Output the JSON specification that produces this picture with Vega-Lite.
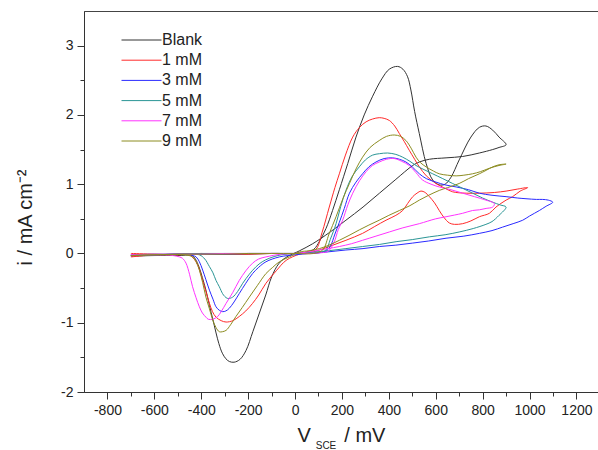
{
  "$schema": "https://vega.github.io/schema/vega-lite/v6.json",
  "width": 514,
  "height": 381,
  "autosize": {"type": "none"},
  "padding": {"left": 84, "top": 11, "right": 0, "bottom": 58},
  "background": "white",
  "config": {
    "view": {"stroke": "#444", "strokeWidth": 1},
    "font": "Liberation Sans"
  },
  "title": {
    "text": "SCE",
    "orient": "bottom",
    "anchor": "middle",
    "fontSize": 10,
    "font": "Liberation Sans",
    "fontWeight": "normal",
    "color": "#222",
    "dx": -15,
    "offset": -4
  },
  "data": {
    "values": [
      {"c":"Blank","v":-700,"i":-0.03},{"c":"Blank","v":-600,"i":-0.02},{"c":"Blank","v":-500,"i":-0.02},{"c":"Blank","v":-400,"i":-0.01},{"c":"Blank","v":-300,"i":-0.01},{"c":"Blank","v":-200,"i":-0.01},{"c":"Blank","v":-100,"i":0.0},{"c":"Blank","v":0,"i":0.0},{"c":"Blank","v":50,"i":0.02},{"c":"Blank","v":80,"i":0.06},{"c":"Blank","v":105,"i":0.18},{"c":"Blank","v":132,"i":0.36},{"c":"Blank","v":160,"i":0.62},{"c":"Blank","v":189,"i":0.92},{"c":"Blank","v":225,"i":1.30},{"c":"Blank","v":260,"i":1.68},{"c":"Blank","v":295,"i":2.0},{"c":"Blank","v":331,"i":2.27},{"c":"Blank","v":370,"i":2.52},{"c":"Blank","v":402,"i":2.66},{"c":"Blank","v":437,"i":2.70},{"c":"Blank","v":460,"i":2.66},{"c":"Blank","v":480,"i":2.55},{"c":"Blank","v":494,"i":2.36},{"c":"Blank","v":510,"i":2.05},{"c":"Blank","v":530,"i":1.73},{"c":"Blank","v":559,"i":1.30},{"c":"Blank","v":587,"i":1.06},{"c":"Blank","v":615,"i":0.99},{"c":"Blank","v":640,"i":1.0},{"c":"Blank","v":665,"i":1.1},{"c":"Blank","v":700,"i":1.35},{"c":"Blank","v":750,"i":1.68},{"c":"Blank","v":786,"i":1.82},{"c":"Blank","v":814,"i":1.84},{"c":"Blank","v":843,"i":1.78},{"c":"Blank","v":870,"i":1.68},{"c":"Blank","v":900,"i":1.57},
      {"c":"Blank","v":870,"i":1.53},{"c":"Blank","v":843,"i":1.50},{"c":"Blank","v":786,"i":1.45},{"c":"Blank","v":715,"i":1.40},{"c":"Blank","v":644,"i":1.38},{"c":"Blank","v":573,"i":1.36},{"c":"Blank","v":530,"i":1.32},{"c":"Blank","v":502,"i":1.27},{"c":"Blank","v":430,"i":1.07},{"c":"Blank","v":360,"i":0.87},{"c":"Blank","v":290,"i":0.67},{"c":"Blank","v":217,"i":0.48},{"c":"Blank","v":150,"i":0.31},{"c":"Blank","v":75,"i":0.14},{"c":"Blank","v":20,"i":0.04},{"c":"Blank","v":-40,"i":-0.06},{"c":"Blank","v":-70,"i":-0.15},{"c":"Blank","v":-100,"i":-0.34},{"c":"Blank","v":-125,"i":-0.6},{"c":"Blank","v":-152,"i":-0.86},{"c":"Blank","v":-180,"i":-1.13},{"c":"Blank","v":-209,"i":-1.40},{"c":"Blank","v":-235,"i":-1.53},{"c":"Blank","v":-260,"i":-1.57},{"c":"Blank","v":-280,"i":-1.56},{"c":"Blank","v":-295,"i":-1.52},{"c":"Blank","v":-310,"i":-1.44},{"c":"Blank","v":-325,"i":-1.30},{"c":"Blank","v":-350,"i":-0.96},{"c":"Blank","v":-365,"i":-0.75},{"c":"Blank","v":-380,"i":-0.53},{"c":"Blank","v":-395,"i":-0.35},{"c":"Blank","v":-410,"i":-0.19},{"c":"Blank","v":-425,"i":-0.08},{"c":"Blank","v":-440,"i":-0.03},{"c":"Blank","v":-500,"i":-0.03},{"c":"Blank","v":-600,"i":-0.03},{"c":"Blank","v":-700,"i":-0.04},

      {"c":"1 mM","v":-700,"i":-0.05},{"c":"1 mM","v":-600,"i":-0.02},{"c":"1 mM","v":-500,"i":-0.01},{"c":"1 mM","v":-400,"i":0.0},{"c":"1 mM","v":-300,"i":-0.01},{"c":"1 mM","v":-200,"i":-0.01},{"c":"1 mM","v":-100,"i":0.0},{"c":"1 mM","v":0,"i":0.0},{"c":"1 mM","v":50,"i":0.02},{"c":"1 mM","v":89,"i":0.06},{"c":"1 mM","v":115,"i":0.3},{"c":"1 mM","v":146,"i":0.67},{"c":"1 mM","v":170,"i":0.95},{"c":"1 mM","v":189,"i":1.15},{"c":"1 mM","v":215,"i":1.42},{"c":"1 mM","v":246,"i":1.68},{"c":"1 mM","v":275,"i":1.82},{"c":"1 mM","v":303,"i":1.90},{"c":"1 mM","v":330,"i":1.94},{"c":"1 mM","v":359,"i":1.96},{"c":"1 mM","v":380,"i":1.95},{"c":"1 mM","v":402,"i":1.92},{"c":"1 mM","v":425,"i":1.84},{"c":"1 mM","v":445,"i":1.73},{"c":"1 mM","v":465,"i":1.62},{"c":"1 mM","v":487,"i":1.49},{"c":"1 mM","v":510,"i":1.36},{"c":"1 mM","v":530,"i":1.25},{"c":"1 mM","v":560,"i":1.12},{"c":"1 mM","v":601,"i":1.01},{"c":"1 mM","v":640,"i":0.94},{"c":"1 mM","v":672,"i":0.89},{"c":"1 mM","v":730,"i":0.87},{"c":"1 mM","v":786,"i":0.87},{"c":"1 mM","v":850,"i":0.88},{"c":"1 mM","v":900,"i":0.90},{"c":"1 mM","v":950,"i":0.93},{"c":"1 mM","v":992,"i":0.95},
      {"c":"1 mM","v":960,"i":0.90},{"c":"1 mM","v":928,"i":0.82},{"c":"1 mM","v":900,"i":0.77},{"c":"1 mM","v":857,"i":0.67},{"c":"1 mM","v":829,"i":0.58},{"c":"1 mM","v":786,"i":0.53},{"c":"1 mM","v":750,"i":0.47},{"c":"1 mM","v":715,"i":0.43},{"c":"1 mM","v":680,"i":0.42},{"c":"1 mM","v":658,"i":0.44},{"c":"1 mM","v":635,"i":0.52},{"c":"1 mM","v":615,"i":0.62},{"c":"1 mM","v":595,"i":0.73},{"c":"1 mM","v":573,"i":0.82},{"c":"1 mM","v":555,"i":0.88},{"c":"1 mM","v":537,"i":0.90},{"c":"1 mM","v":520,"i":0.87},{"c":"1 mM","v":502,"i":0.82},{"c":"1 mM","v":480,"i":0.72},{"c":"1 mM","v":459,"i":0.62},{"c":"1 mM","v":430,"i":0.55},{"c":"1 mM","v":388,"i":0.48},{"c":"1 mM","v":340,"i":0.39},{"c":"1 mM","v":288,"i":0.29},{"c":"1 mM","v":217,"i":0.19},{"c":"1 mM","v":146,"i":0.10},{"c":"1 mM","v":75,"i":0.02},{"c":"1 mM","v":20,"i":-0.01},{"c":"1 mM","v":-38,"i":-0.10},{"c":"1 mM","v":-80,"i":-0.25},{"c":"1 mM","v":-124,"i":-0.43},{"c":"1 mM","v":-155,"i":-0.60},{"c":"1 mM","v":-181,"i":-0.72},{"c":"1 mM","v":-210,"i":-0.83},{"c":"1 mM","v":-238,"i":-0.91},{"c":"1 mM","v":-265,"i":-0.97},{"c":"1 mM","v":-294,"i":-0.99},{"c":"1 mM","v":-315,"i":-0.97},{"c":"1 mM","v":-337,"i":-0.92},{"c":"1 mM","v":-352,"i":-0.84},{"c":"1 mM","v":-365,"i":-0.72},{"c":"1 mM","v":-380,"i":-0.55},{"c":"1 mM","v":-394,"i":-0.39},{"c":"1 mM","v":-408,"i":-0.23},{"c":"1 mM","v":-422,"i":-0.12},{"c":"1 mM","v":-451,"i":-0.02},{"c":"1 mM","v":-500,"i":-0.02},{"c":"1 mM","v":-600,"i":-0.01},{"c":"1 mM","v":-700,"i":0.0},

      {"c":"3 mM","v":-700,"i":-0.03},{"c":"3 mM","v":-600,"i":-0.02},{"c":"3 mM","v":-500,"i":-0.01},{"c":"3 mM","v":-400,"i":-0.01},{"c":"3 mM","v":-300,"i":-0.01},{"c":"3 mM","v":-200,"i":0.0},{"c":"3 mM","v":-100,"i":0.0},{"c":"3 mM","v":0,"i":0.0},{"c":"3 mM","v":60,"i":0.0},{"c":"3 mM","v":100,"i":0.01},{"c":"3 mM","v":130,"i":0.03},{"c":"3 mM","v":150,"i":0.1},{"c":"3 mM","v":170,"i":0.28},{"c":"3 mM","v":189,"i":0.45},{"c":"3 mM","v":210,"i":0.65},{"c":"3 mM","v":232,"i":0.87},{"c":"3 mM","v":260,"i":1.03},{"c":"3 mM","v":288,"i":1.15},{"c":"3 mM","v":315,"i":1.25},{"c":"3 mM","v":345,"i":1.32},{"c":"3 mM","v":380,"i":1.37},{"c":"3 mM","v":416,"i":1.38},{"c":"3 mM","v":445,"i":1.36},{"c":"3 mM","v":473,"i":1.32},{"c":"3 mM","v":500,"i":1.25},{"c":"3 mM","v":530,"i":1.15},{"c":"3 mM","v":560,"i":1.08},{"c":"3 mM","v":601,"i":1.03},{"c":"3 mM","v":640,"i":0.99},{"c":"3 mM","v":687,"i":0.96},{"c":"3 mM","v":740,"i":0.92},{"c":"3 mM","v":786,"i":0.87},{"c":"3 mM","v":840,"i":0.84},{"c":"3 mM","v":900,"i":0.82},{"c":"3 mM","v":950,"i":0.80},{"c":"3 mM","v":985,"i":0.79},{"c":"3 mM","v":1030,"i":0.78},{"c":"3 mM","v":1056,"i":0.78},{"c":"3 mM","v":1080,"i":0.77},{"c":"3 mM","v":1099,"i":0.74},
      {"c":"3 mM","v":1070,"i":0.68},{"c":"3 mM","v":1042,"i":0.62},{"c":"3 mM","v":1000,"i":0.54},{"c":"3 mM","v":971,"i":0.48},{"c":"3 mM","v":930,"i":0.43},{"c":"3 mM","v":885,"i":0.38},{"c":"3 mM","v":840,"i":0.33},{"c":"3 mM","v":786,"i":0.29},{"c":"3 mM","v":720,"i":0.25},{"c":"3 mM","v":644,"i":0.22},{"c":"3 mM","v":570,"i":0.18},{"c":"3 mM","v":502,"i":0.15},{"c":"3 mM","v":430,"i":0.12},{"c":"3 mM","v":359,"i":0.10},{"c":"3 mM","v":290,"i":0.07},{"c":"3 mM","v":217,"i":0.05},{"c":"3 mM","v":132,"i":0.02},{"c":"3 mM","v":60,"i":0.0},{"c":"3 mM","v":0,"i":-0.02},{"c":"3 mM","v":-67,"i":-0.05},{"c":"3 mM","v":-124,"i":-0.12},{"c":"3 mM","v":-155,"i":-0.20},{"c":"3 mM","v":-181,"i":-0.29},{"c":"3 mM","v":-210,"i":-0.43},{"c":"3 mM","v":-238,"i":-0.58},{"c":"3 mM","v":-260,"i":-0.70},{"c":"3 mM","v":-280,"i":-0.79},{"c":"3 mM","v":-295,"i":-0.83},{"c":"3 mM","v":-309,"i":-0.84},{"c":"3 mM","v":-323,"i":-0.82},{"c":"3 mM","v":-337,"i":-0.77},{"c":"3 mM","v":-350,"i":-0.66},{"c":"3 mM","v":-365,"i":-0.53},{"c":"3 mM","v":-380,"i":-0.38},{"c":"3 mM","v":-394,"i":-0.24},{"c":"3 mM","v":-408,"i":-0.12},{"c":"3 mM","v":-422,"i":-0.05},{"c":"3 mM","v":-450,"i":-0.02},{"c":"3 mM","v":-500,"i":-0.01},{"c":"3 mM","v":-600,"i":-0.02},{"c":"3 mM","v":-700,"i":-0.03},

      {"c":"5 mM","v":-700,"i":-0.02},{"c":"5 mM","v":-600,"i":-0.01},{"c":"5 mM","v":-500,"i":-0.01},{"c":"5 mM","v":-400,"i":0.0},{"c":"5 mM","v":-300,"i":0.0},{"c":"5 mM","v":-200,"i":0.0},{"c":"5 mM","v":-100,"i":0.0},{"c":"5 mM","v":0,"i":0.0},{"c":"5 mM","v":60,"i":0.0},{"c":"5 mM","v":100,"i":0.01},{"c":"5 mM","v":132,"i":0.05},{"c":"5 mM","v":150,"i":0.2},{"c":"5 mM","v":175,"i":0.43},{"c":"5 mM","v":195,"i":0.68},{"c":"5 mM","v":217,"i":0.91},{"c":"5 mM","v":245,"i":1.12},{"c":"5 mM","v":274,"i":1.25},{"c":"5 mM","v":300,"i":1.35},{"c":"5 mM","v":331,"i":1.42},{"c":"5 mM","v":360,"i":1.44},{"c":"5 mM","v":395,"i":1.45},{"c":"5 mM","v":430,"i":1.43},{"c":"5 mM","v":459,"i":1.39},{"c":"5 mM","v":490,"i":1.33},{"c":"5 mM","v":516,"i":1.27},{"c":"5 mM","v":550,"i":1.21},{"c":"5 mM","v":587,"i":1.15},{"c":"5 mM","v":630,"i":1.08},{"c":"5 mM","v":672,"i":1.01},{"c":"5 mM","v":715,"i":0.94},{"c":"5 mM","v":757,"i":0.87},{"c":"5 mM","v":800,"i":0.80},{"c":"5 mM","v":843,"i":0.74},{"c":"5 mM","v":875,"i":0.70},{"c":"5 mM","v":900,"i":0.67},
      {"c":"5 mM","v":870,"i":0.55},{"c":"5 mM","v":840,"i":0.46},{"c":"5 mM","v":814,"i":0.42},{"c":"5 mM","v":760,"i":0.36},{"c":"5 mM","v":700,"i":0.31},{"c":"5 mM","v":640,"i":0.27},{"c":"5 mM","v":573,"i":0.24},{"c":"5 mM","v":500,"i":0.20},{"c":"5 mM","v":431,"i":0.17},{"c":"5 mM","v":360,"i":0.13},{"c":"5 mM","v":288,"i":0.10},{"c":"5 mM","v":217,"i":0.07},{"c":"5 mM","v":146,"i":0.04},{"c":"5 mM","v":80,"i":0.02},{"c":"5 mM","v":0,"i":0.0},{"c":"5 mM","v":-60,"i":-0.02},{"c":"5 mM","v":-110,"i":-0.07},{"c":"5 mM","v":-140,"i":-0.12},{"c":"5 mM","v":-166,"i":-0.19},{"c":"5 mM","v":-195,"i":-0.30},{"c":"5 mM","v":-223,"i":-0.43},{"c":"5 mM","v":-245,"i":-0.55},{"c":"5 mM","v":-266,"i":-0.63},{"c":"5 mM","v":-287,"i":-0.65},{"c":"5 mM","v":-300,"i":-0.62},{"c":"5 mM","v":-309,"i":-0.58},{"c":"5 mM","v":-323,"i":-0.48},{"c":"5 mM","v":-337,"i":-0.39},{"c":"5 mM","v":-350,"i":-0.28},{"c":"5 mM","v":-365,"i":-0.19},{"c":"5 mM","v":-385,"i":-0.08},{"c":"5 mM","v":-408,"i":-0.02},{"c":"5 mM","v":-500,"i":-0.01},{"c":"5 mM","v":-600,"i":-0.02},{"c":"5 mM","v":-700,"i":-0.02},

      {"c":"7 mM","v":-700,"i":-0.02},{"c":"7 mM","v":-600,"i":-0.01},{"c":"7 mM","v":-500,"i":-0.01},{"c":"7 mM","v":-400,"i":-0.01},{"c":"7 mM","v":-300,"i":0.0},{"c":"7 mM","v":-200,"i":0.0},{"c":"7 mM","v":-100,"i":0.0},{"c":"7 mM","v":0,"i":0.0},{"c":"7 mM","v":60,"i":0.0},{"c":"7 mM","v":110,"i":0.01},{"c":"7 mM","v":140,"i":0.03},{"c":"7 mM","v":165,"i":0.15},{"c":"7 mM","v":185,"i":0.35},{"c":"7 mM","v":203,"i":0.48},{"c":"7 mM","v":225,"i":0.70},{"c":"7 mM","v":246,"i":0.87},{"c":"7 mM","v":275,"i":1.05},{"c":"7 mM","v":303,"i":1.18},{"c":"7 mM","v":330,"i":1.27},{"c":"7 mM","v":359,"i":1.32},{"c":"7 mM","v":390,"i":1.36},{"c":"7 mM","v":423,"i":1.37},{"c":"7 mM","v":455,"i":1.33},{"c":"7 mM","v":487,"i":1.27},{"c":"7 mM","v":515,"i":1.17},{"c":"7 mM","v":544,"i":1.06},{"c":"7 mM","v":580,"i":1.0},{"c":"7 mM","v":615,"i":0.96},{"c":"7 mM","v":665,"i":0.92},{"c":"7 mM","v":715,"i":0.87},{"c":"7 mM","v":765,"i":0.82},{"c":"7 mM","v":814,"i":0.77},{"c":"7 mM","v":850,"i":0.72},
      {"c":"7 mM","v":843,"i":0.67},{"c":"7 mM","v":815,"i":0.65},{"c":"7 mM","v":786,"i":0.63},{"c":"7 mM","v":757,"i":0.62},{"c":"7 mM","v":715,"i":0.58},{"c":"7 mM","v":644,"i":0.53},{"c":"7 mM","v":600,"i":0.50},{"c":"7 mM","v":530,"i":0.43},{"c":"7 mM","v":460,"i":0.37},{"c":"7 mM","v":402,"i":0.31},{"c":"7 mM","v":345,"i":0.25},{"c":"7 mM","v":288,"i":0.19},{"c":"7 mM","v":240,"i":0.14},{"c":"7 mM","v":189,"i":0.10},{"c":"7 mM","v":140,"i":0.07},{"c":"7 mM","v":104,"i":0.05},{"c":"7 mM","v":50,"i":0.02},{"c":"7 mM","v":0,"i":0.0},{"c":"7 mM","v":-60,"i":-0.01},{"c":"7 mM","v":-124,"i":-0.05},{"c":"7 mM","v":-155,"i":-0.08},{"c":"7 mM","v":-181,"i":-0.14},{"c":"7 mM","v":-210,"i":-0.25},{"c":"7 mM","v":-238,"i":-0.39},{"c":"7 mM","v":-265,"i":-0.56},{"c":"7 mM","v":-294,"i":-0.72},{"c":"7 mM","v":-315,"i":-0.84},{"c":"7 mM","v":-330,"i":-0.91},{"c":"7 mM","v":-351,"i":-0.95},{"c":"7 mM","v":-370,"i":-0.95},{"c":"7 mM","v":-380,"i":-0.92},{"c":"7 mM","v":-395,"i":-0.86},{"c":"7 mM","v":-408,"i":-0.77},{"c":"7 mM","v":-422,"i":-0.64},{"c":"7 mM","v":-437,"i":-0.48},{"c":"7 mM","v":-450,"i":-0.30},{"c":"7 mM","v":-465,"i":-0.14},{"c":"7 mM","v":-480,"i":-0.07},{"c":"7 mM","v":-493,"i":-0.05},{"c":"7 mM","v":-520,"i":-0.03},{"c":"7 mM","v":-600,"i":-0.02},{"c":"7 mM","v":-700,"i":-0.02},

      {"c":"9 mM","v":-700,"i":-0.03},{"c":"9 mM","v":-600,"i":-0.02},{"c":"9 mM","v":-500,"i":-0.01},{"c":"9 mM","v":-400,"i":-0.01},{"c":"9 mM","v":-300,"i":-0.01},{"c":"9 mM","v":-200,"i":0.0},{"c":"9 mM","v":-100,"i":0.0},{"c":"9 mM","v":0,"i":0.0},{"c":"9 mM","v":80,"i":0.0},{"c":"9 mM","v":118,"i":0.05},{"c":"9 mM","v":145,"i":0.28},{"c":"9 mM","v":175,"i":0.53},{"c":"9 mM","v":205,"i":0.80},{"c":"9 mM","v":232,"i":1.01},{"c":"9 mM","v":260,"i":1.22},{"c":"9 mM","v":288,"i":1.39},{"c":"9 mM","v":320,"i":1.53},{"c":"9 mM","v":359,"i":1.63},{"c":"9 mM","v":390,"i":1.69},{"c":"9 mM","v":423,"i":1.71},{"c":"9 mM","v":450,"i":1.69},{"c":"9 mM","v":473,"i":1.63},{"c":"9 mM","v":495,"i":1.52},{"c":"9 mM","v":516,"i":1.39},{"c":"9 mM","v":535,"i":1.31},{"c":"9 mM","v":559,"i":1.25},{"c":"9 mM","v":590,"i":1.19},{"c":"9 mM","v":615,"i":1.15},{"c":"9 mM","v":650,"i":1.13},{"c":"9 mM","v":687,"i":1.12},{"c":"9 mM","v":720,"i":1.13},{"c":"9 mM","v":757,"i":1.15},{"c":"9 mM","v":790,"i":1.18},{"c":"9 mM","v":829,"i":1.23},{"c":"9 mM","v":870,"i":1.27},{"c":"9 mM","v":900,"i":1.29},
      {"c":"9 mM","v":870,"i":1.28},{"c":"9 mM","v":843,"i":1.25},{"c":"9 mM","v":815,"i":1.20},{"c":"9 mM","v":786,"i":1.15},{"c":"9 mM","v":740,"i":1.08},{"c":"9 mM","v":700,"i":1.01},{"c":"9 mM","v":650,"i":0.95},{"c":"9 mM","v":615,"i":0.91},{"c":"9 mM","v":570,"i":0.84},{"c":"9 mM","v":530,"i":0.77},{"c":"9 mM","v":490,"i":0.69},{"c":"9 mM","v":445,"i":0.62},{"c":"9 mM","v":400,"i":0.55},{"c":"9 mM","v":359,"i":0.48},{"c":"9 mM","v":315,"i":0.41},{"c":"9 mM","v":274,"i":0.34},{"c":"9 mM","v":230,"i":0.26},{"c":"9 mM","v":189,"i":0.19},{"c":"9 mM","v":145,"i":0.12},{"c":"9 mM","v":104,"i":0.07},{"c":"9 mM","v":60,"i":0.04},{"c":"9 mM","v":18,"i":0.02},{"c":"9 mM","v":-24,"i":-0.05},{"c":"9 mM","v":-67,"i":-0.12},{"c":"9 mM","v":-95,"i":-0.20},{"c":"9 mM","v":-124,"i":-0.29},{"c":"9 mM","v":-160,"i":-0.46},{"c":"9 mM","v":-195,"i":-0.63},{"c":"9 mM","v":-225,"i":-0.78},{"c":"9 mM","v":-252,"i":-0.91},{"c":"9 mM","v":-275,"i":-1.03},{"c":"9 mM","v":-294,"i":-1.11},{"c":"9 mM","v":-310,"i":-1.13},{"c":"9 mM","v":-323,"i":-1.13},{"c":"9 mM","v":-337,"i":-1.07},{"c":"9 mM","v":-351,"i":-0.96},{"c":"9 mM","v":-365,"i":-0.80},{"c":"9 mM","v":-380,"i":-0.63},{"c":"9 mM","v":-394,"i":-0.42},{"c":"9 mM","v":-408,"i":-0.24},{"c":"9 mM","v":-422,"i":-0.12},{"c":"9 mM","v":-437,"i":-0.05},{"c":"9 mM","v":-470,"i":-0.02},{"c":"9 mM","v":-550,"i":-0.02},{"c":"9 mM","v":-620,"i":-0.02},{"c":"9 mM","v":-700,"i":-0.03}
    ]
  },
  "mark": {"type": "line", "strokeWidth": 1, "clip": true, "interpolate": "catmull-rom"},
  "encoding": {
    "x": {
      "field": "v",
      "type": "quantitative",
      "scale": {"domain": [-900, 1292], "nice": false, "zero": false},
      "axis": {
        "title": "V\u00a0\u00a0\u00a0\u00a0\u00a0\u00a0/ mV",
        "titleFontSize": 20,
        "titleFont": "Liberation Sans",
        "titleFontWeight": "normal",
        "titleColor": "#222",
        "titleBaseline": "alphabetic",
        "titleY": 49,
        "values": [-800,-700,-600,-500,-400,-300,-200,-100,0,100,200,300,400,500,600,700,800,900,1000,1100,1200],
        "labelExpr": "datum.value % 200 === 0 ? toString(datum.value) : ''",
        "labelFontSize": 14,
        "labelColor": "#222",
        "labelPadding": 4,
        "labelFlush": false,
        "labelOverlap": false,
        "tickSize": {"condition": {"test": "datum.value % 200 === 0", "value": 7}, "value": 4},
        "tickColor": "#333",
        "domainColor": "#333",
        "grid": false
      }
    },
    "y": {
      "field": "i",
      "type": "quantitative",
      "scale": {"domain": [-2, 3.5], "nice": false, "zero": false},
      "axis": {
        "title": "i / mA cm⁻²",
        "titleFontSize": 20,
        "titleFont": "Liberation Sans",
        "titleFontWeight": "normal",
        "titleColor": "#222",
        "titleBaseline": "alphabetic",
        "titleAngle": -90,
        "titleX": -53,
        "titleY": 206,
        "values": [-2,-1.5,-1,-0.5,0,0.5,1,1.5,2,2.5,3],
        "labelExpr": "datum.value % 1 === 0 ? toString(datum.value) : ''",
        "labelFontSize": 14,
        "labelColor": "#222",
        "labelPadding": 4,
        "labelFlush": false,
        "labelOverlap": false,
        "tickSize": {"condition": {"test": "datum.value % 1 === 0", "value": 7}, "value": 4},
        "tickColor": "#333",
        "domainColor": "#333",
        "grid": false
      }
    },
    "color": {
      "field": "c",
      "type": "nominal",
      "scale": {
        "domain": ["Blank", "1 mM", "3 mM", "5 mM", "7 mM", "9 mM"],
        "range": ["#333333", "#ff2a2a", "#2a2aff", "#2a9595", "#ff33ff", "#8c8c20"]
      },
      "legend": {
        "orient": "none",
        "legendX": 46,
        "legendY": 18.5,
        "title": null,
        "symbolType": "M-1.9,0H2.1",
        "symbolSize": 400,
        "symbolStrokeWidth": 1,
        "labelFontSize": 16,
        "labelFont": "Liberation Sans",
        "labelColor": "#222",
        "labelOffset": 11,
        "rowPadding": 1.2,
        "padding": 0
      }
    },
    "order": {"value": null}
  }
}
